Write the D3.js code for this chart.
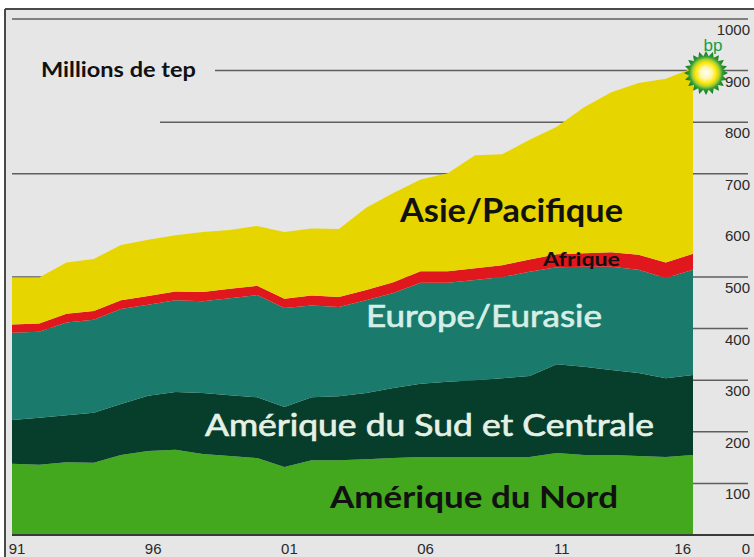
<!DOCTYPE html>
<html><head><meta charset="utf-8">
<script src="https://cdn.jsdelivr.net/npm/d3@7"></script>
<style>body{margin:0;background:#fff}svg{display:block}</style>
</head><body><svg id="c" width="754" height="557"></svg>
<script>
const years = [1991,1992,1993,1994,1995,1996,1997,1998,1999,2000,2001,2002,2003,2004,2005,2006,2007,2008,2009,2010,2011,2012,2013,2014,2015,2016];
const northAmerica        = [138,136,141,140,155,163,165,157,153,149,132,145,145,147,149,151,151,151,151,151,159,155,155,153,151,155];
const southCentralAmerica = [ 85, 91, 91, 97, 99,107,112,118,118,118,116,122,124,128,136,142,146,149,153,157,172,171,165,161,153,155];
const europeEurasia       = [169,167,180,180,184,176,178,178,188,198,192,178,173,180,184,196,192,194,196,202,188,194,200,200,194,204];
const africa              = [ 16, 16, 17, 17, 17, 17, 17, 18, 18, 18, 18, 19, 19, 20, 21, 22, 22, 23, 23, 24, 25, 26, 28, 29, 30, 31];
const asiaPacific         = [ 91, 89, 99,101,107,109,109,116,114,116,129,130,132,159,173,178,190,219,215,232,247,283,310,333,356,360];
const seriesKeys = ["na","sca","eu","af","ap"];
const seriesNames = ["Amérique du Nord","Amérique du Sud et Centrale","Europe/Eurasie","Afrique","Asie/Pacifique"];
const yTicks = [0,100,200,300,400,500,600,700,800,900,1000];
const xTickYears = [1991,1996,2001,2006,2011,2016];
const xTickLabels = ["91","96","01","06","11","16"];
const unitLabel = "Millions de tep";

const colors = {na:"#43a81e", sca:"#073d2b", eu:"#1a7b6c", af:"#e0171c", ap:"#e7d500"};
const seriesArrays = {na:northAmerica, sca:southCentralAmerica, eu:europeEurasia, af:africa, ap:asiaPacific};
const table = years.map((yr,i)=>{const o={year:yr}; seriesKeys.forEach(k=>o[k]=seriesArrays[k][i]); return o;});

const svg = d3.select("#c");
const x = d3.scaleLinear().domain([1991,2016]).range([12,693]);
const y = d3.scaleLinear().domain([0,1000]).range([535,19]);
const narrow = "'Liberation Sans Narrow','Arial Narrow','Liberation Sans',sans-serif";

// frame/background
svg.append("rect").attr("x",5).attr("y",9).attr("width",749).attr("height",548).attr("fill","#e6e6e6");
svg.append("line").attr("x1",5).attr("x2",754).attr("y1",9).attr("y2",9).attr("stroke","#4a4a4a").attr("stroke-width",2);
svg.append("line").attr("x1",5).attr("x2",5).attr("y1",9).attr("y2",557).attr("stroke","#4a4a4a").attr("stroke-width",2);

// gridlines
const gridStart = {1000:12, 900:215, 800:160, 700:12};
svg.append("g").selectAll("line").data(yTicks.filter(v=>v>0 && v!==600)).join("line")
  .attr("x1",v=>gridStart[v]!==undefined?gridStart[v]:12).attr("x2",748)
  .attr("y1",v=>y(v)).attr("y2",v=>y(v))
  .attr("stroke","#5e5e5e").attr("stroke-width",1.5);

// stacked areas
const stack = d3.stack().keys(seriesKeys);
const layers = stack(table);
const area = d3.area().x(d=>x(d.data.year)).y0(d=>y(d[0])).y1(d=>y(d[1]));
svg.append("g").selectAll("path").data(layers).join("path")
  .attr("d",area).attr("fill",d=>colors[d.key]);

// bottom axis line
svg.append("line").attr("x1",12).attr("x2",754).attr("y1",y(0)).attr("y2",y(0)).attr("stroke","#3a3a3a").attr("stroke-width",2);

// y tick labels (right)
svg.append("g").selectAll("text").data(yTicks).join("text")
  .attr("x",750).attr("y",v=>v===0?y(v)+19:y(v)+16).attr("text-anchor","end")
  .attr("font-family",narrow).attr("font-size",15).attr("fill","#2a2a2a")
  .text(v=>v);

// x tick labels (last one kept inside the plot)
svg.append("g").selectAll("text").data(xTickYears).join("text")
  .attr("x",(d,i)=>i===xTickYears.length-1? x(d)-2 : x(d)+5).attr("y",554)
  .attr("text-anchor",(d,i)=>i===xTickYears.length-1?"end":"middle")
  .attr("font-family",narrow).attr("font-size",15).attr("fill","#2a2a2a")
  .text((d,i)=>xTickLabels[i]);

// unit label
svg.append("text").attr("x",41).attr("y",77).attr("font-family","Lato,'Open Sans',sans-serif")
  .attr("font-weight","bold").attr("font-size",20).attr("fill","#111")
  .attr("textLength",155).attr("lengthAdjust","spacingAndGlyphs").text(unitLabel);

// series labels
const labelSpecs = [
  {i:4, x:400, y:222, size:32, w:223, weight:"bold", fill:"#111", sw:0},
  {i:3, x:543, y:266, size:19, w:77, weight:"bold", fill:"#111", sw:0},
  {i:2, x:366, y:327, size:31, w:236, weight:"normal", fill:"#d6eee5", sw:0.7},
  {i:1, x:205, y:436, size:31, w:449, weight:"normal", fill:"#e4f1e4", sw:0.7},
  {i:0, x:330, y:508, size:30, w:288, weight:"bold", fill:"#111", sw:0}
];
svg.append("g").selectAll("text").data(labelSpecs).join("text")
  .attr("x",d=>d.x).attr("y",d=>d.y).attr("font-family","Lato,'Open Sans',sans-serif")
  .attr("font-weight",d=>d.weight).attr("font-size",d=>d.size).attr("fill",d=>d.fill)
  .attr("stroke",d=>d.sw?d.fill:"none").attr("stroke-width",d=>d.sw)
  .attr("textLength",d=>d.w).attr("lengthAdjust","spacingAndGlyphs")
  .text(d=>seriesNames[d.i]);

// bp logo
const defs = svg.append("defs");
const g = defs.append("radialGradient").attr("id","helios");
[[0,"#ffffff"],[0.28,"#fff7a8"],[0.48,"#ffe600"],[0.62,"#a6cf3a"],[0.76,"#2f9a2f"],[1,"#0a7424"]]
  .forEach(s=>g.append("stop").attr("offset",s[0]).attr("stop-color",s[1]));
const cx=706, cy=73;
const pts = d3.range(40).map(i=>{const r=i%2?17:22; const a=i*Math.PI/20; return [cx+r*Math.sin(a), cy-r*Math.cos(a)];});
svg.append("polygon").attr("points",pts.map(p=>p.join(",")).join(" ")).attr("fill","url(#helios)");
svg.append("text").attr("x",713).attr("y",51).attr("text-anchor","middle")
  .attr("font-family","'Liberation Sans',Arial,sans-serif").attr("font-size",17).attr("fill","#12a04a").text("bp");
</script></body></html>
